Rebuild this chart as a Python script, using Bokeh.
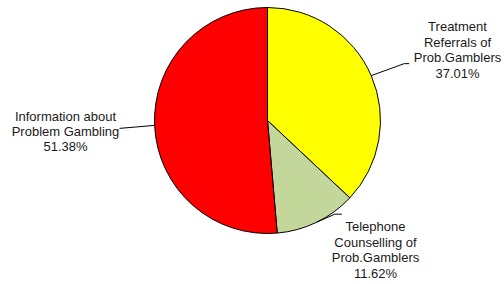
import math
from bokeh.plotting import figure
from bokeh.models import Range1d, ColumnDataSource
from bokeh.core.properties import value
from bokeh.embed import file_html
from bokeh.resources import INLINE

label_lines = ["Treatment\nReferrals of\nProb.Gamblers", "Telephone\nCounselling of\nProb.Gamblers", "Information about\nProblem Gambling"]
shares = [37.01, 11.62, 51.38]
colors = ["#FFFF00", "#C4D79B", "#FF0000"]

W, H = 504, 284
def Y(py):
    return H - py

p = figure(width=W, height=H, output_backend="svg", toolbar_location=None,
           x_range=Range1d(0, W), y_range=Range1d(0, H),
           min_border=0)
p.axis.visible = False
p.grid.visible = False
p.outline_line_color = None
p.background_fill_color = "white"

cx, cy, r = 267, Y(120), 113
total = sum(shares)
starts, ends, mids = [], [], []
acc = 0.0
for s in shares:
    a_end = math.pi / 2 - 2 * math.pi * acc / total
    a_start = math.pi / 2 - 2 * math.pi * (acc + s) / total
    starts.append(a_start)
    ends.append(a_end)
    mids.append((a_start + a_end) / 2)
    acc += s

src = ColumnDataSource(dict(start=starts, end=ends, color=colors))
p.wedge(x=cx, y=cy, radius=r, start_angle="start", end_angle="end",
        fill_color="color", line_color="black", line_width=1, source=src)

# leader lines: from slice mid-point on rim to elbow, then short horizontal
elbows = [(33, -12, 5), (18, -8, 7), (-35, 3, 0)]
text_pos = [(457, 49.5), (375, 249.5), (65, 131)]
for i, m in enumerate(mids):
    x0 = cx + r * math.cos(m)
    y0 = cy + r * math.sin(m)
    dx, dy, h = elbows[i]
    x1 = x0 + dx
    y1 = y0 - dy
    x2 = x1 + (h if dx > 0 else -h)
    p.line([x0, x1, x2], [y0, y1, y1], line_color="black", line_width=1)

texts = [f"{label_lines[i]}\n{shares[i]:.2f}%" for i in range(3)]
p.text(x=[t[0] for t in text_pos], y=[Y(t[1]) for t in text_pos], text=texts,
       text_align="center", text_baseline="middle",
       text_font=value("Liberation Sans"), text_font_size="13px",
       text_color="#1a1a1a", text_line_height=1.03)

open("out.html", "w").write(file_html(p, INLINE))
